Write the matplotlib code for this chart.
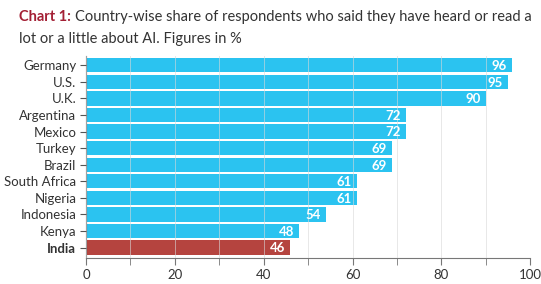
import matplotlib
matplotlib.use("Agg")
import matplotlib.pyplot as plt
from matplotlib.ticker import MultipleLocator

countries = ["Germany", "U.S.", "U.K.", "Argentina", "Mexico", "Turkey", "Brazil",
             "South Africa", "Nigeria", "Indonesia", "Kenya", "India"]
values = [96, 95, 90, 72, 72, 69, 69, 61, 61, 54, 48, 46]
highlight = "India"
xticks = [0, 20, 40, 60, 80, 100]

plt.rcParams['font.family'] = ['Lato', 'DejaVu Sans']

fig = plt.figure(figsize=(5.41, 2.84), dpi=100)
ax = fig.add_axes([0.159, 0.092, 0.821, 0.71])

colors = ["#b5443f" if c == highlight else "#2bc3f0" for c in countries]
y = list(range(len(countries)))
ax.barh(y, values, height=0.86, color=colors, zorder=2)

for yi, v in zip(y, values):
    ax.text(v - 1.2, yi + 0.05, str(v), ha='right', va='center', color='white',
            fontsize=9.5, fontweight='bold', zorder=4)

ax.set_xlim(0, 100)
ax.set_ylim(len(countries) - 0.38, -0.55)
ax.set_yticks(y)
ax.set_yticklabels(countries, fontsize=9.5, color='#333333')
for lbl in ax.get_yticklabels():
    if lbl.get_text() == highlight:
        lbl.set_fontweight('bold')
ax.set_xticks(xticks)
ax.set_xticklabels([str(t) for t in xticks], fontsize=9.5, color='#333333')
ax.xaxis.set_minor_locator(MultipleLocator(10))
ax.grid(axis='x', which='both', color='#d8d8d8', linewidth=0.7, alpha=0.6, zorder=3)
ax.set_axisbelow(False)

for s in ['top', 'right']:
    ax.spines[s].set_visible(False)
ax.spines['left'].set_color('#555555')
ax.spines['bottom'].set_color('#777777')
ax.spines['left'].set_linewidth(0.8)
ax.spines['bottom'].set_linewidth(0.8)
ax.tick_params(axis='y', length=4, color='#555555', pad=3)
ax.tick_params(axis='x', which='both', length=5, color='#777777', pad=3)

t1 = fig.text(0.035, 0.925, "Chart 1:", fontsize=10.5, fontweight='bold', color='#a31f34', va='baseline')
fig.canvas.draw()
ax.annotate("Country-wise share of respondents who said they have heard or read a",
            xy=(1, 0), xycoords=t1, xytext=(3, 0), textcoords='offset points',
            fontsize=10.5, color='#333333', va='bottom', annotation_clip=False)
fig.text(0.035, 0.85, "lot or a little about AI. Figures in %", fontsize=10.5, color='#333333', va='baseline')

fig.savefig("out.png", dpi=100)
